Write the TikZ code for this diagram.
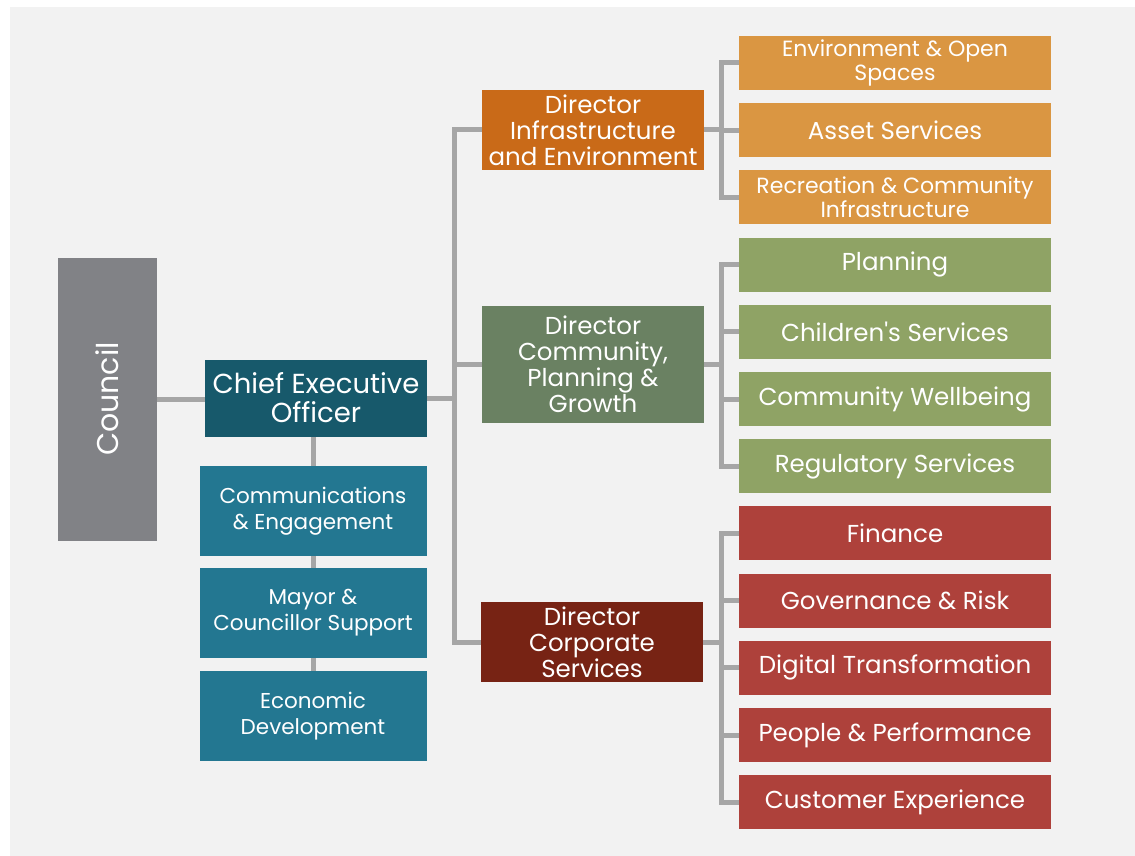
\documentclass[tikz,border=0pt]{standalone}
\usepackage{fontspec}
\setmainfont{Poppins}

\pgfdeclarelayer{back}
\pgfdeclarelayer{lines}
\pgfsetlayers{back,lines,main}

\definecolor{panelgrey}{HTML}{F2F2F2}
\definecolor{linkgrey}{HTML}{A6A6A6}
\definecolor{councilgrey}{HTML}{818286}
\definecolor{ceoblue}{HTML}{17596B}
\definecolor{teal}{HTML}{237791}
\definecolor{infraorange}{HTML}{C96A18}
\definecolor{suborange}{HTML}{DA9642}
\definecolor{commgreen}{HTML}{6A8162}
\definecolor{subgreen}{HTML}{8FA365}
\definecolor{corpred}{HTML}{772314}
\definecolor{subred}{HTML}{AE413B}

\tikzset{
  box/.style={inner sep=0pt, text=white, align=center},
  sub/.style={box, minimum width=312pt, minimum height=54pt, font=\fontsize{24.5}{24}\selectfont},
  subtwo/.style={sub, font=\fontsize{22}{24}\selectfont},
  director/.style={box, minimum width=222pt, font=\fontsize{24.5}{26}\selectfont},
  office/.style={box, minimum width=227pt, minimum height=90pt, fill=teal, font=\fontsize{21.5}{26}\selectfont},
  link/.style={line width=5pt, draw=linkgrey}
}

\begin{document}
\begin{tikzpicture}[x=1pt,y=-1pt]

\def\width{1135}
\def\height{856}
\def\busx{454}
\def\subbusx{721}
\def\subx{895}

\path [use as bounding box] (0,0) rectangle (\width,\height);

% PANEL
\begin{pgfonlayer}{back}
\fill [panelgrey] (10,7) rectangle (\width,\height);
\end{pgfonlayer}

% COUNCIL AND CEO
\node [box, fill=councilgrey, minimum width=99pt, minimum height=283pt] (council) at (107.5,399) {\rotatebox{90}{\fontsize{30}{36}\selectfont Council}};
\node [box, fill=ceoblue, minimum width=222pt, minimum height=77pt, font=\fontsize{27.5}{29}\selectfont] (ceo) at (316,398) {Chief Executive\\Officer};

% OFFICES
\node [office] (comms) at (313,511) {Communications\\\& Engagement};
\node [office] (mayor) at (313,613) {Mayor \&\\Councillor Support};
\node [office] (econ) at (313,716) {Economic\\Development};

% DIRECTORS
\node [director, fill=infraorange, minimum height=80pt] (dinfra) at (593,130) {Director\\Infrastructure\\and Environment};
\node [director, fill=commgreen, minimum height=117pt] (dcomm) at (593,364.5) {Director\\Community,\\Planning \&\\Growth};
\node [director, fill=corpred, minimum height=80pt] (dcorp) at (592,642) {Director\\Corporate\\Services};

% SERVICES
\foreach \i/\s/\c/\t in {
  1/subtwo/suborange/{Environment \& Open\\Spaces},
  2/sub/suborange/{Asset Services},
  3/subtwo/suborange/{Recreation \& Community\\Infrastructure},
  4/sub/subgreen/{Planning},
  5/sub/subgreen/{Children\textquotesingle s Services},
  6/sub/subgreen/{Community Wellbeing},
  7/sub/subgreen/{Regulatory Services},
  8/sub/subred/{Finance},
  9/sub/subred/{Governance \& Risk},
  10/sub/subred/{Digital Transformation},
  11/sub/subred/{People \& Performance},
  12/sub/subred/{Customer Experience}}
  \node [\s, fill=\c] (s\i) at (\subx,{63+67.2*(\i-1)}) {\t};

% LINKS
\coordinate (bus) at (\busx,0);
\coordinate (subbus) at (\subbusx,0);
\begin{pgfonlayer}{lines}
\draw [link] (council.east) -- (council.east -| ceo.west);
\draw [link] (ceo.south -| comms.north) -- (econ.north);
\draw [link] (ceo.east) -- (ceo.east -| bus);
\draw [link] (dinfra.west) -- (dinfra.west -| bus) -- (dcorp.west -| bus) -- (dcorp.west);
\draw [link] (dcomm.west) -- (dcomm.west -| bus);
\foreach \d in {dinfra,dcomm,dcorp}
  \draw [link] (\d.east) -- (\d.east -| subbus);
\foreach \a/\b in {1/3,4/7,8/12}
  \draw [link] (s\a.west) -- (s\a.west -| subbus) -- (s\b.west -| subbus) -- (s\b.west);
\foreach \i in {2,5,6,9,10,11}
  \draw [link] (s\i.west) -- (s\i.west -| subbus);
\end{pgfonlayer}

\end{tikzpicture}
\end{document}
